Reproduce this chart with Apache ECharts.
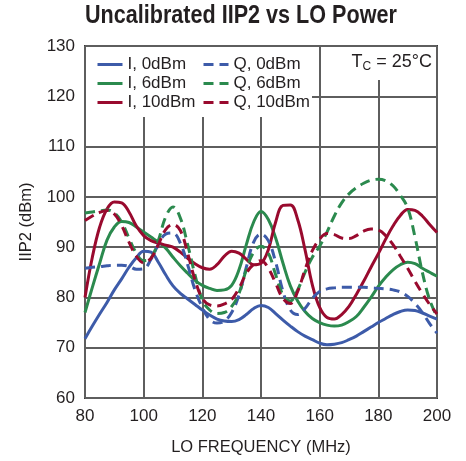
<!DOCTYPE html>
<html>
<head>
<meta charset="utf-8">
<script src="https://cdn.jsdelivr.net/npm/echarts@6/dist/echarts.min.js"></script>
<style>
  html, body { margin: 0; padding: 0; background: #fff; }
  #chart { width: 466px; height: 461px; }
</style>
</head>
<body>
<div id="chart"></div>
<script>
// LO frequency (MHz), every 2.5 MHz
const freq = []
for (let f = 80; f <= 200; f += 2.5) freq.push(f)

// IIP2 (dBm)
const i0dBm = [71.8, 74.3, 76.7, 79.0, 81.5, 83.7, 86.0, 87.9, 89.2, 89.0, 87.0, 84.5, 82.3, 80.8, 79.7, 78.6, 77.5,
  76.5, 75.7, 75.3, 75.2, 75.6, 76.6, 77.8, 78.4, 78.0, 76.8, 75.5, 74.3, 73.2, 72.3, 71.6, 70.9,
  70.6, 70.7, 71.0, 71.6, 72.3, 73.2, 74.1, 75.0, 75.8, 76.6, 77.2, 77.5, 77.4, 76.9, 76.3, 75.7]
const i6dBm = [77.0, 82.0, 86.8, 91.4, 94.0, 95.1, 94.9, 94.0, 93.0, 92.0, 91.0, 89.8, 88.0, 86.3, 84.8, 83.4, 82.4,
  81.8, 81.4, 81.5, 82.4, 85.5, 90.5, 95.0, 97.1, 95.5, 91.8, 86.8, 82.3, 79.3, 77.2, 75.8, 75.0,
  74.5, 74.3, 74.5, 75.2, 76.2, 78.0, 80.0, 82.2, 84.0, 85.5, 86.5, 87.0, 86.7, 85.8, 85.0, 84.2]
const i10dBm = [80.0, 88.0, 94.0, 97.6, 99.0, 98.8, 97.0, 94.2, 92.3, 91.3, 90.8, 90.4, 90.0, 89.0, 87.8, 86.7, 85.9,
  85.6, 86.5, 88.2, 89.2, 88.8, 87.6, 86.5, 86.8, 89.5, 95.0, 98.3, 98.4, 95.5, 89.5, 82.5, 78.0,
  76.0, 75.7, 76.6, 78.2, 80.6, 83.2, 86.0, 88.7, 91.6, 94.2, 96.3, 97.5, 97.3, 96.2, 94.5, 92.9]
const q0dBm = [85.8, 86.0, 86.1, 86.3, 86.4, 86.4, 86.2, 85.6, 85.7, 87.6, 90.5, 92.6, 92.8, 90.8, 86.5, 81.5, 78.0,
  75.6, 74.9, 75.3, 77.0, 80.5, 86.0, 91.0, 92.6, 91.3, 87.0, 81.2, 77.5, 76.6, 77.8, 79.8, 81.2,
  81.7, 81.9, 82.0, 82.0, 82.0, 82.0, 81.9, 81.8, 81.7, 81.5, 81.1, 80.2, 78.8, 77.0, 74.8, 72.9]
const q6dBm = [96.8, 97.0, 97.2, 97.4, 96.8, 95.0, 91.8, 88.8, 87.3, 87.8, 91.3, 96.0, 98.0, 95.8, 90.5, 84.5, 79.5,
  77.5, 76.8, 77.0, 78.2, 80.8, 85.5, 89.0, 90.2, 88.8, 84.5, 80.5, 79.3, 81.5, 85.0, 88.0, 90.2,
  93.0, 96.2, 98.8, 100.6, 101.8, 102.7, 103.3, 103.5, 103.2, 102.2, 100.3, 97.8, 92.0, 85.0, 79.5, 76.2]
const q10dBm = [95.3, 96.2, 96.9, 97.3, 96.6, 94.3, 91.0, 88.2, 86.9, 87.8, 90.5, 93.5, 94.5, 93.3, 88.8, 83.5, 79.8,
  78.5, 78.3, 78.7, 79.6, 81.8, 84.8, 86.6, 87.3, 85.8, 82.8, 79.8, 78.8, 81.2, 85.5, 89.3, 91.6,
  92.7, 92.5, 91.8, 91.7, 92.3, 93.2, 93.6, 93.4, 92.3, 90.5, 88.2, 85.8, 83.2, 80.8, 78.6, 76.7]

const seriesNames = ['I, 0dBm', 'I, 6dBm', 'I, 10dBm', 'Q, 0dBm', 'Q, 6dBm', 'Q, 10dBm']
const seriesValues = [i0dBm, i6dBm, i10dBm, q0dBm, q6dBm, q10dBm]
const seriesColors = ['#3d5ba9', '#2b8a4e', '#990a2e', '#3d5ba9', '#2b8a4e', '#990a2e']

const fontMain = "'Liberation Sans', Arial, sans-serif"
const textColor = '#231f20'

const chartInstance = echarts.init(document.getElementById('chart'), null, { renderer: 'canvas' })

const series = seriesNames.map((name, idx) => {
  return {
    name: name,
    type: 'line',
    smooth: 0.4,
    symbol: 'none',
    data: freq.map((f, i) => [f, seriesValues[idx][i]]),
    lineStyle: {
      color: seriesColors[idx],
      width: 3,
      type: idx >= 3 ? [10, 6] : 'solid'
    },
    itemStyle: { color: seriesColors[idx] },
    z: 2
  }
})

const legendCommon = {
  orient: 'vertical',
  top: 55,
  padding: 0,
  itemWidth: 25,
  itemHeight: 12,
  itemGap: 0,
  selectedMode: false,
  itemStyle: { opacity: 0 },
  lineStyle: { width: 3 },
  textStyle: {
    fontFamily: fontMain,
    fontSize: 17,
    lineHeight: 19,
    color: textColor
  }
}

const option = {
  backgroundColor: '#fff',
  animation: false,
  legend: [
    Object.assign({}, legendCommon, { left: 96, data: seriesNames.slice(0, 3) }),
    Object.assign({}, legendCommon, { left: 202, data: seriesNames.slice(3) })
  ],
  grid: {
    left: 85,
    right: 29,
    top: 46,
    bottom: 63,
    show: true,
    borderColor: '#3a3a3a',
    borderWidth: 2
  },
  xAxis: {
    type: 'value',
    min: 80,
    max: 200,
    interval: 20,
    name: 'LO FREQUENCY (MHz)',
    nameLocation: 'middle',
    nameGap: 41,
    nameTextStyle: { fontFamily: fontMain, fontSize: 16.5, color: textColor },
    axisLine: { show: false },
    axisTick: { show: false },
    axisLabel: { margin: 10, fontFamily: fontMain, fontSize: 17, color: textColor },
    splitLine: { lineStyle: { color: '#5e5e5e', width: 2 } }
  },
  yAxis: {
    type: 'value',
    min: 60,
    max: 130,
    interval: 10,
    name: 'IIP2 (dBm)',
    nameLocation: 'middle',
    nameGap: 50,
    nameTextStyle: { fontFamily: fontMain, fontSize: 16.5, color: textColor },
    axisLine: { show: false },
    axisTick: { show: false },
    axisLabel: { margin: 10, fontFamily: fontMain, fontSize: 17, color: textColor },
    splitLine: { lineStyle: { color: '#5e5e5e', width: 2 } }
  },
  graphic: [
    // title, squeezed to look like the condensed bold face of the original
    {
      type: 'text',
      z: 5,
      x: 85,
      y: 3,
      scaleX: 0.83,
      style: {
        text: 'Uncalibrated IIP2 vs LO Power',
        fontFamily: fontMain,
        fontWeight: 'bold',
        fontSize: 26,
        fill: textColor,
        verticalAlign: 'top'
      }
    },
    // white boxes behind the legend and the temperature note
    { type: 'rect', z: 1, shape: { x: 86, y: 47, width: 226, height: 70 }, style: { fill: '#fff' } },
    { type: 'rect', z: 1, shape: { x: 351, y: 47, width: 85, height: 33 }, style: { fill: '#fff' } },
    {
      type: 'text',
      z: 5,
      x: 432,
      y: 51,
      style: {
        text: '{a|T}{b|C}{a| = 25°C}',
        align: 'right',
        verticalAlign: 'top',
        fill: textColor,
        rich: {
          a: { fontFamily: fontMain, fontSize: 18, lineHeight: 22, color: textColor },
          b: { fontFamily: fontMain, fontSize: 12, lineHeight: 13, padding: [9, 0, 0, 0], color: textColor }
        }
      }
    }
  ],
  series: series
}

chartInstance.setOption(option)
</script>
</body>
</html>
